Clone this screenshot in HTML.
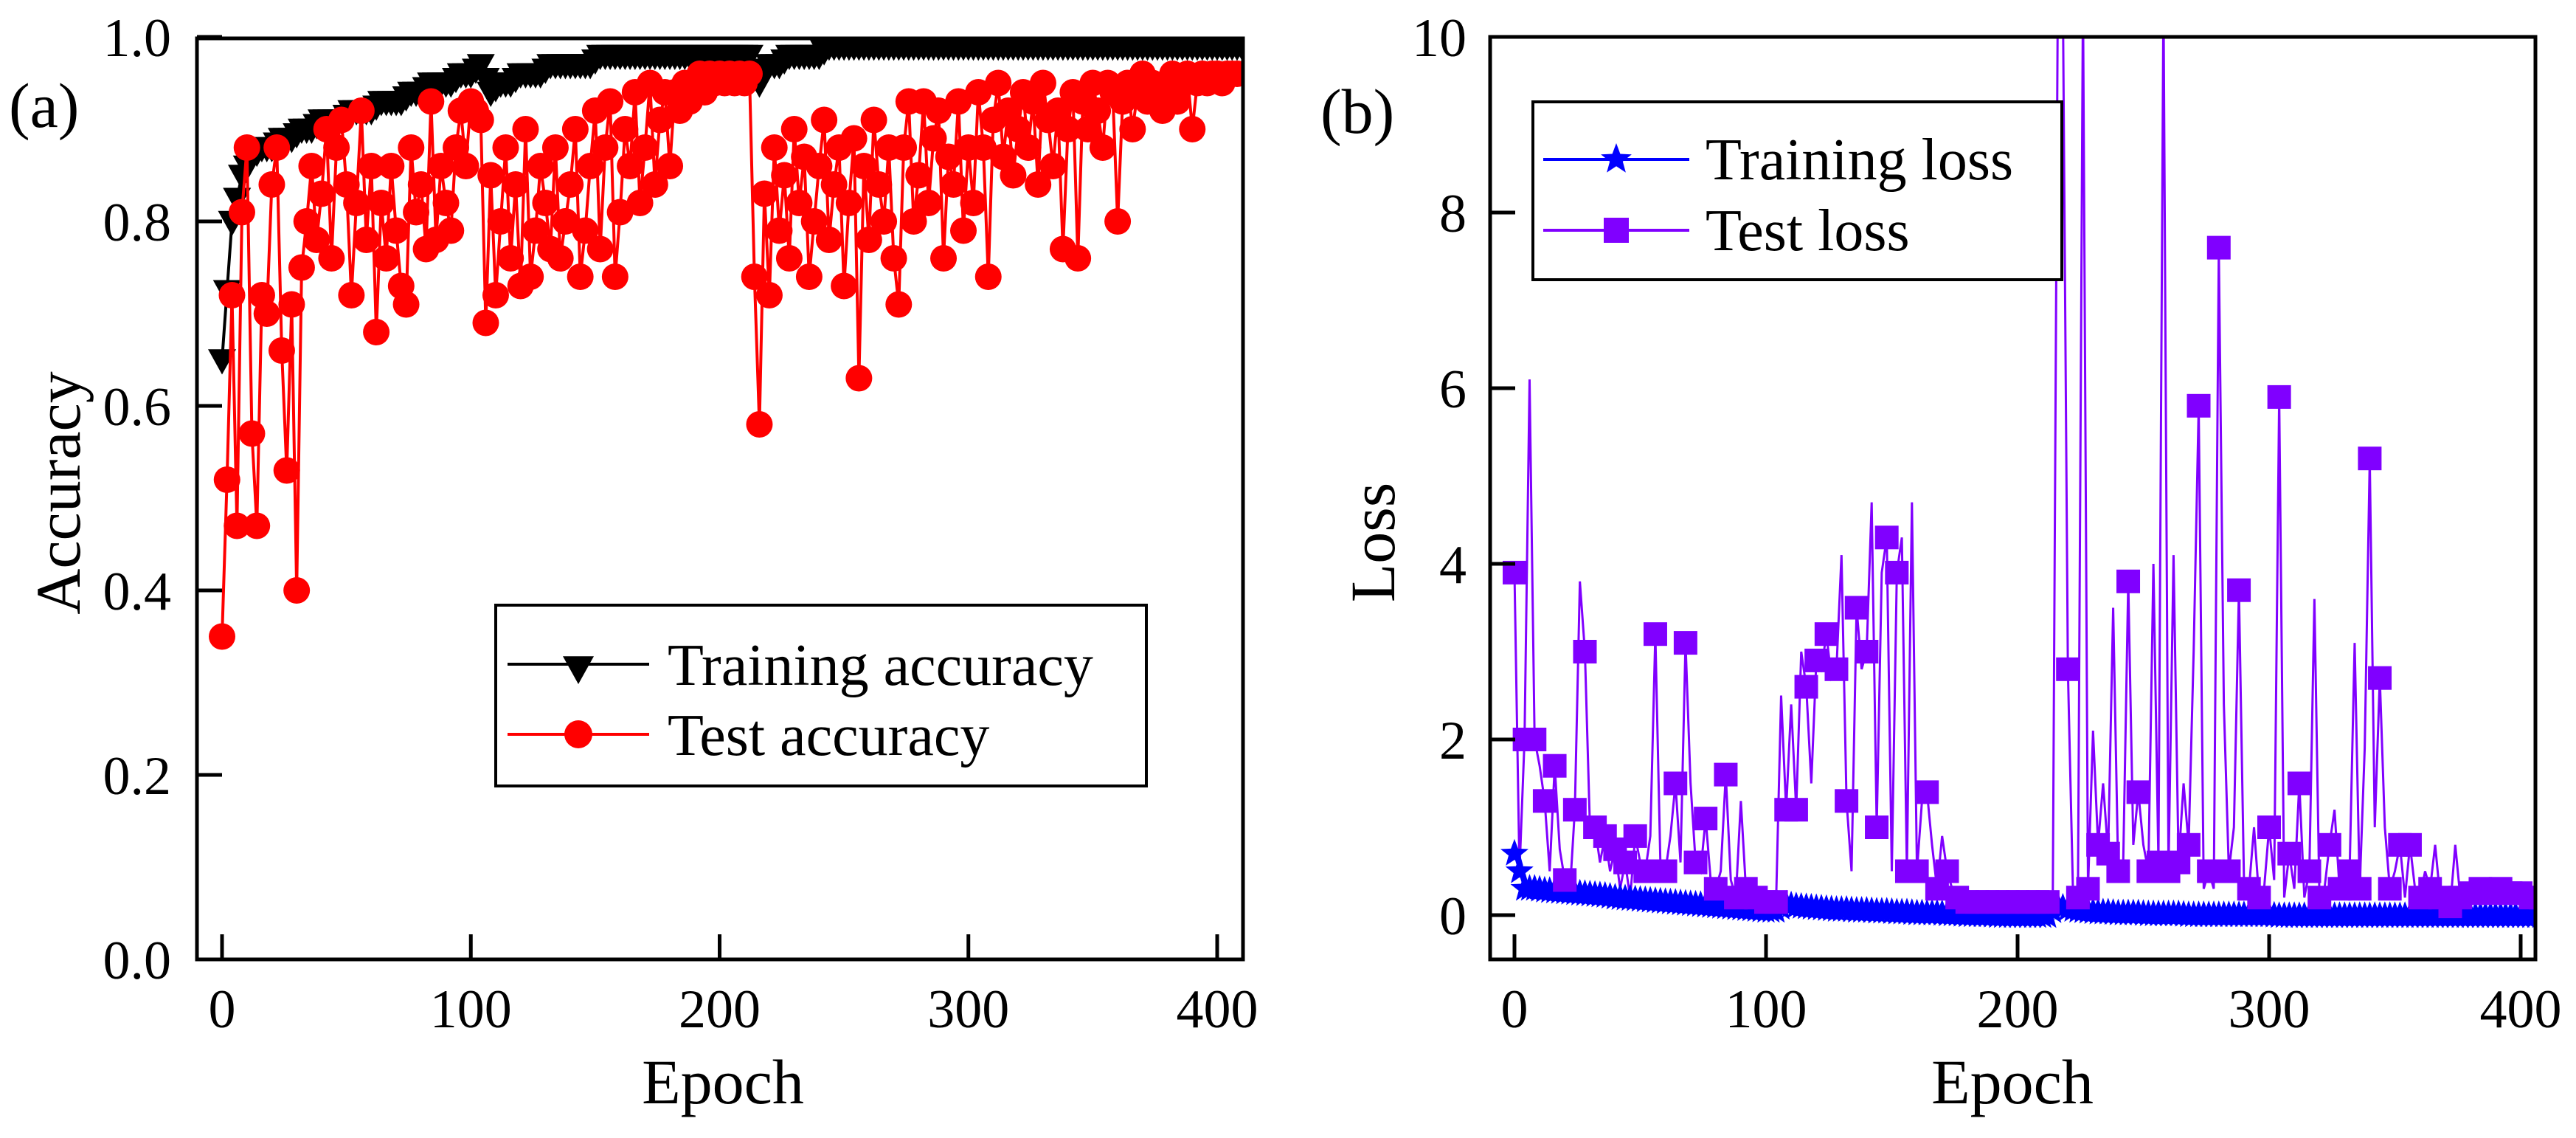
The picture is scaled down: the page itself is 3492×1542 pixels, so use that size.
<!DOCTYPE html>
<html><head><meta charset="utf-8"><style>
html,body{margin:0;padding:0;background:#fff}
svg{display:block;font-family:"Liberation Serif",serif}
</style></head><body>
<svg id="fig" width="3492" height="1542" viewBox="0 0 3492 1542" xmlns="http://www.w3.org/2000/svg">
<defs>
<clipPath id="clipA"><rect x="267" y="52" width="1418" height="1248"/></clipPath>
<clipPath id="clipB"><rect x="2020" y="50" width="1417" height="1250"/></clipPath>
</defs>
<g id="panelA"></g>
<g id="panelB"></g>
</svg>
<script>
const stepTrain = 4;
const stepTest = 2;
const trainAcc = [0.65,0.80,0.85,0.87,0.88,0.88,0.89,0.89,0.90,0.90,0.91,0.91,0.91,0.92,0.92,0.92,0.93,0.93,0.93,0.94,0.94,0.95,0.95,0.95,0.96,0.96,0.97,0.94,0.95,0.95,0.96,0.96,0.96,0.97,0.97,0.97,0.97,0.97,0.98,0.98,0.98,0.98,0.98,0.98,0.98,0.98,0.98,0.98,0.98,0.98,0.98,0.98,0.98,0.98,0.95,0.97,0.97,0.98,0.98,0.98,0.98,0.99,0.99,0.99,0.99,0.99,0.99,0.99,0.99,0.99,0.99,0.99,0.99,0.99,0.99,0.99,0.99,0.99,0.99,0.99,0.99,0.99,0.99,0.99,0.99,0.99,0.99,0.99,0.99,0.99,0.99,0.99,0.99,0.99,0.99,0.99,0.99,0.99,0.99,0.99,0.99,0.99,0.99];
const testAcc = [0.35,0.52,0.72,0.47,0.81,0.88,0.57,0.47,0.72,0.70,0.84,0.88,0.66,0.53,0.71,0.40,
0.75,0.80,0.86,0.78,0.83,0.90,0.76,0.88,0.91,0.84,0.72,0.82,0.92,0.78,0.86,
0.68,0.82,0.76,0.86,0.79,0.73,0.71,0.88,0.81,0.84,0.77,0.93,0.78,0.86,0.82,
0.79,0.88,0.92,0.86,0.93,0.92,0.91,0.69,0.85,0.72,0.80,0.88,0.76,0.84,0.73,
0.90,0.74,0.79,0.86,0.82,0.77,0.88,0.76,0.80,0.84,0.90,0.74,0.79,0.86,0.92,
0.77,0.88,0.93,0.74,0.81,0.90,0.86,0.94,0.82,0.88,0.95,0.84,0.91,0.94,0.86,
0.94,0.92,0.95,0.93,0.95,0.96,0.94,0.96,0.95,0.96,0.95,0.96,0.95,0.96,0.95,
0.96,0.74,0.58,0.83,0.72,0.88,0.79,0.85,0.76,0.90,0.82,0.87,0.74,0.80,0.86,
0.91,0.78,0.84,0.88,0.73,0.82,0.89,0.63,0.86,0.78,0.91,0.84,0.80,0.88,0.76,
0.71,0.88,0.93,0.80,0.85,0.93,0.82,0.89,0.92,0.76,0.87,0.84,0.93,0.79,0.88,
0.82,0.94,0.88,0.74,0.91,0.95,0.87,0.92,0.85,0.90,0.94,0.88,0.93,0.84,0.95,
0.91,0.86,0.92,0.77,0.90,0.94,0.76,0.93,0.90,0.95,0.92,0.88,0.95,0.94,0.80,
0.93,0.95,0.90,0.94,0.96,0.93,0.95,0.94,0.92,0.95,0.96,0.93,0.95,0.96,0.90,
0.95,0.96,0.95,0.96,0.96,0.95,0.96,0.96,0.96];
const trainLoss = [0.70,0.30,0.30,0.28,0.27,0.26,0.25,0.24,0.23,0.22,0.20,0.19,0.18,0.17,0.16,0.15,0.14,0.13,0.12,0.11,0.10,0.09,0.08,0.07,0.06,0.05,0.05,0.12,0.10,0.09,0.08,0.07,0.06,0.06,0.05,0.05,0.04,0.04,0.03,0.03,0.02,0.02,0.02,0.01,0.01,0.00,0.00,0.00,-0.01,-0.01,-0.01,-0.01,-0.01,-0.01,0.10,0.07,0.05,0.04,0.03,0.03,0.02,0.02,0.02,0.01,0.01,0.01,0.01,0.00,0.00,0.00,0.00,0.00,0.00,0.00,0.00,0.00,-0.01,-0.01,-0.01,-0.01,-0.01,-0.01,-0.01,-0.01,-0.01,-0.01,-0.01,-0.01,-0.01,-0.01,-0.01,-0.01,-0.01,-0.01,-0.01,-0.01,-0.01,-0.01,-0.01,-0.01,-0.01,-0.01,-0.01];
const testLoss = [3.9,0.5,2.0,6.1,2.0,1.7,1.3,0.5,1.7,0.75,0.4,0.25,1.2,3.8,3.0,1.0,
1.0,0.6,0.9,0.5,0.75,0.3,0.6,0.2,0.9,0.6,0.5,0.9,3.2,0.6,0.5,
0.9,1.5,0.6,3.1,1.5,0.6,0.5,1.1,0.4,0.3,0.5,1.6,0.4,0.2,1.3,
0.3,0.2,0.2,0.15,0.15,0.12,0.15,2.5,1.2,2.4,1.2,3.0,2.6,1.5,2.9,
2.8,3.2,2.7,2.8,4.1,1.3,0.5,3.5,2.8,3.0,4.7,1.0,3.9,4.3,0.5,
3.9,4.3,0.5,4.7,0.5,1.3,1.4,0.8,0.3,0.9,0.5,0.3,0.2,0.2,0.15,
0.15,0.15,0.15,0.15,0.15,0.15,0.15,0.15,0.15,0.15,0.15,0.15,0.15,0.15,0.15,
0.15,0.2,10.5,10.5,2.8,0.3,0.2,10.5,0.3,2.1,0.8,1.5,0.7,3.5,0.5,
0.6,3.8,0.8,1.4,0.8,0.5,4.0,0.6,10.5,0.5,4.1,0.6,1.5,0.8,3.0,
5.8,0.3,0.5,0.3,7.6,2.4,0.5,1.0,3.7,0.4,0.3,1.0,0.2,0.3,1.0,
0.4,5.9,0.2,0.7,0.3,1.5,0.2,0.5,3.6,0.2,0.3,0.8,1.2,0.3,0.2,
0.5,3.1,0.3,1.9,5.2,1.0,2.7,1.0,0.3,0.5,0.8,0.2,0.8,0.3,0.2,
0.5,0.3,0.8,0.2,0.3,0.1,0.8,0.2,0.3,0.25,0.2,0.3,0.2,0.25,0.2,
0.3,0.2,0.25,0.2,0.25,0.2,0.2,0.25,0.2];
const xTicks = [0,100,200,300,400];
const accTicks = [0.0,0.2,0.4,0.6,0.8,1.0];
const accTickLabels = ["0.0","0.2","0.4","0.6","0.8","1.0"];
const lossTicks = [0,2,4,6,8,10];
const lossTickLabels = ["0","2","4","6","8","10"];

const NS = "http://www.w3.org/2000/svg";
function mk(parent, tag, attrs, text){
  const e = document.createElementNS(NS, tag);
  for (const k in attrs) e.setAttribute(k, attrs[k]);
  if (text !== undefined) e.textContent = text;
  parent.appendChild(e);
  return e;
}
const xA = e => 301 + e * 3.3725;
const yA = v => 1300 - v * 1250;
const xB = e => 2053 + e * 3.41;
const yB = v => 1240 - v * 119;

function tri(cx, cy, s){ return `${cx-s},${cy-s*0.75} ${cx+s},${cy-s*0.75} ${cx},${cy+s*1.05}`; }
function star(cx, cy, r){
  let p=[]; for(let i=0;i<10;i++){const a=-Math.PI/2+i*Math.PI/5; const rr=i%2?r*0.42:r; p.push((cx+rr*Math.cos(a)).toFixed(1)+","+(cy+rr*Math.sin(a)).toFixed(1));} return p.join(" ");
}

// ---------- Panel A ----------
const A = document.getElementById('panelA');
const gA = mk(A,'g',{'clip-path':'url(#clipA)'});


let ptsR = trainAcc.map((v,i)=>xA(i*stepTrain)+","+yA(v)).join(" ");
const lR = mk(gA,'polyline',{points:ptsR,fill:'none',stroke:'#000','stroke-width':4});


trainAcc.forEach((v,i)=>{
  for (let k=0;k<2;k++){
    const e = i*stepTrain + k*2;
    const v2 = k===0 ? v : (i+1<trainAcc.length ? (v+trainAcc[i+1])/2 : v);
    const m = mk(gA,'polygon',{points:tri(xA(e),yA(v2),19),fill:'#000'});
    
    
  }
});
let ptsT = testAcc.map((v,i)=>xA(i*stepTest)+","+yA(v)).join(" ");
const lT = mk(gA,'polyline',{points:ptsT,fill:'none',stroke:'#ff0000','stroke-width':4});


testAcc.forEach((v,i)=>{
  const m = mk(gA,'circle',{cx:xA(i*stepTest),cy:yA(v),r:18,fill:'#ff0000'});
  
  
});
const fA = mk(A,'rect',{x:267,y:52,width:1418,height:1248,fill:'none',stroke:'#000','stroke-width':5});


xTicks.forEach(t=>{
  const l = mk(A,'line',{x1:xA(t),x2:xA(t),y1:1300,y2:1266,stroke:'#000','stroke-width':5});
  
  
  const tx = mk(A,'text',{x:xA(t),y:1392,'font-size':74,'text-anchor':'middle'},String(t));
  
  
});
accTicks.forEach((t,i)=>{
  const l = mk(A,'line',{x1:267,x2:301,y1:yA(t),y2:yA(t),stroke:'#000','stroke-width':5});
  
  
  const tx = mk(A,'text',{x:232,y:yA(t)+26,'font-size':74,'text-anchor':'end'},accTickLabels[i]);
  
  
});
const xtA = mk(A,'text',{x:980,y:1495,'font-size':86,'text-anchor':'middle'},'Epoch');


const ytA = mk(A,'text',{x:0,y:0,'font-size':86,'text-anchor':'middle',transform:'translate(108,668) rotate(-90)'},'Accuracy');


const labA = mk(A,'text',{x:12,y:172,'font-size':86},'(a)');


const legA = mk(A,'g',{});


mk(legA,'rect',{x:672,y:820,width:882,height:245,fill:'#fff',stroke:'#000','stroke-width':4});
const le1 = mk(legA,'g',{});


mk(le1,'line',{x1:688,x2:880,y1:900,y2:900,stroke:'#000','stroke-width':4});
mk(le1,'polygon',{points:tri(784,905,21),fill:'#000'});
mk(le1,'text',{x:905,y:928,'font-size':80},'Training accuracy');
const le2 = mk(legA,'g',{});


mk(le2,'line',{x1:688,x2:880,y1:995,y2:995,stroke:'#ff0000','stroke-width':4});
mk(le2,'circle',{cx:784,cy:995,r:19,fill:'#ff0000'});
mk(le2,'text',{x:905,y:1023,'font-size':80},'Test accuracy');

// ---------- Panel B ----------
const B = document.getElementById('panelB');
const gB = mk(B,'g',{'clip-path':'url(#clipB)'});


let ptsL = testLoss.map((v,i)=>xB(i*stepTest)+","+yB(v)).join(" ");
const lL = mk(gB,'polyline',{points:ptsL,fill:'none',stroke:'#8000ff','stroke-width':3});


let ptsTL = trainLoss.map((v,i)=>xB(i*stepTrain)+","+yB(v)).join(" ");
const lTL = mk(gB,'polyline',{points:ptsTL,fill:'none',stroke:'#0000ff','stroke-width':3});


trainLoss.forEach((v,i)=>{
  for (let k=0;k<2;k++){
    const e = i*stepTrain + k*2;
    const v2 = k===0 ? v : (i+1<trainLoss.length ? (v+trainLoss[i+1])/2 : v);
    const m = mk(gB,'polygon',{points:star(xB(e),yB(v2),20),fill:'#0000ff'});
    
    
  }
});
testLoss.forEach((v,i)=>{
  if (i % 2 !== 0) return;
  const m = mk(gB,'rect',{x:xB(i*stepTest)-16,y:yB(v)-16,width:32,height:32,fill:'#8000ff'});
  
  
});
const fB = mk(B,'rect',{x:2020,y:50,width:1417,height:1250,fill:'none',stroke:'#000','stroke-width':5});


xTicks.forEach(t=>{
  const l = mk(B,'line',{x1:xB(t),x2:xB(t),y1:1300,y2:1266,stroke:'#000','stroke-width':5});
  
  
  const tx = mk(B,'text',{x:xB(t),y:1392,'font-size':74,'text-anchor':'middle'},String(t));
  
  
});
lossTicks.forEach((t,i)=>{
  const l = mk(B,'line',{x1:2020,x2:2054,y1:yB(t),y2:yB(t),stroke:'#000','stroke-width':5});
  
  
  const tx = mk(B,'text',{x:1988,y:yB(t)+26,'font-size':74,'text-anchor':'end'},lossTickLabels[i]);
  
  
});
const xtB = mk(B,'text',{x:2728,y:1495,'font-size':86,'text-anchor':'middle'},'Epoch');


const ytB = mk(B,'text',{x:0,y:0,'font-size':86,'text-anchor':'middle',transform:'translate(1890,735) rotate(-90)'},'Loss');


const labB = mk(B,'text',{x:1790,y:180,'font-size':86},'(b)');


const legB = mk(B,'g',{});


mk(legB,'rect',{x:2078,y:138,width:717,height:241,fill:'#fff',stroke:'#000','stroke-width':4});
const lb1 = mk(legB,'g',{});


mk(lb1,'line',{x1:2092,x2:2290,y1:216,y2:216,stroke:'#0000ff','stroke-width':4});
mk(lb1,'polygon',{points:star(2191,216,22),fill:'#0000ff'});
mk(lb1,'text',{x:2312,y:243,'font-size':80},'Training loss');
const lb2 = mk(legB,'g',{});


mk(lb2,'line',{x1:2092,x2:2290,y1:312,y2:312,stroke:'#8000ff','stroke-width':4});
mk(lb2,'rect',{x:2174,y:295,width:34,height:34,fill:'#8000ff'});
mk(lb2,'text',{x:2312,y:339,'font-size':80},'Test loss');
</script>
</body></html>
